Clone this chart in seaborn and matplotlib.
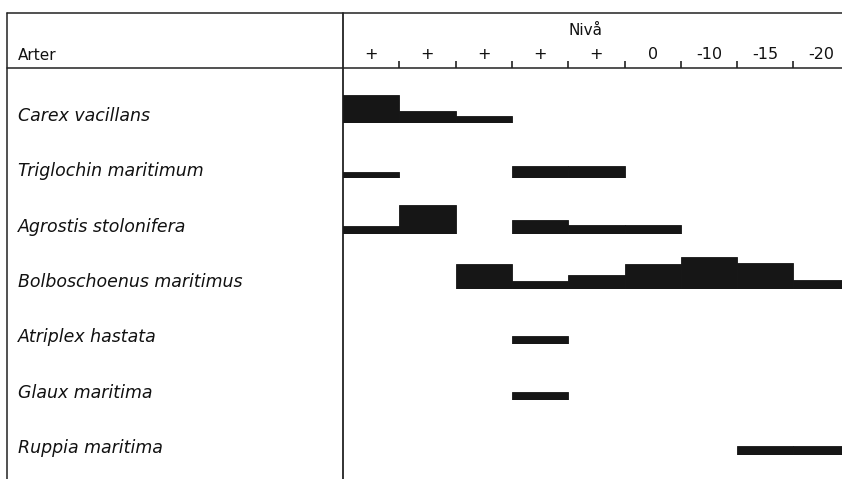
import numpy as np
import pandas as pd
import matplotlib
matplotlib.use("Agg")
import matplotlib.pyplot as plt
import seaborn as sns

# ---------------- data ----------------
levels = ["+", "+", "+", "+", "+", "0", "-10", "-15", "-20"]
species = ["Carex vacillans", "Triglochin maritimum", "Agrostis stolonifera",
           "Bolboschoenus maritimus", "Atriplex hastata", "Glaux maritima",
           "Ruppia maritima"]
# relative abundance (bar thickness) per level column
carex = [28, 12.5, 7, 0, 0, 0, 0, 0, 0]
triglochin = [6, 0, 0, 12.5, 12.5, 0, 0, 0, 0]
agrostis = [7.5, 29, 0, 14, 9, 9, 0, 0, 0]
bolboschoenus = [0, 0, 25, 7.7, 14.3, 25, 31.7, 26, 9]
atriplex = [0, 0, 0, 8.3, 0, 0, 0, 0, 0]
glaux = [0, 0, 0, 7.7, 0, 0, 0, 0, 0]
ruppia = [0, 0, 0, 0, 0, 0, 0, 8.3, 8.3]
values = [carex, triglochin, agrostis, bolboschoenus, atriplex, glaux, ruppia]

# ---------------- style ----------------
sns.set_style("white")
plt.rcParams["font.family"] = ["DejaVu Sans"]

W, H = 842, 479
fig = plt.figure(figsize=(W / 100, H / 100), dpi=100)

# frame axes in pixel coordinates (table rules and row labels)
frame = fig.add_axes([0, 0, 1, 1])
frame.set_xlim(0, W)
frame.set_ylim(H, 0)
frame.axis("off")

left_x, div_x, top_y, head_y = 7, 343, 13, 68
lw = 1.1
frame.plot([left_x, W], [top_y, top_y], color="#222", lw=lw)
frame.plot([left_x, W], [head_y, head_y], color="#222", lw=lw)
frame.plot([left_x, left_x], [top_y, H], color="#222", lw=lw)
frame.plot([div_x, div_x], [top_y, H], color="#222", lw=lw + 0.2)
frame.text(18, 60, "Arter", fontsize=11, va="baseline", color="#111")

col_w = 56.3
xmax = -0.5 + (W - div_x) / col_w

# header axes (level labels + small ticks)
hdr = fig.add_axes([div_x / W, 1 - head_y / H, (W - div_x) / W, (head_y - top_y) / H])
hdr.set_xlim(-0.5, xmax)
hdr.set_ylim(0, 1)
hdr.axis("off")
hdr.patch.set_alpha(0)
hdr.vlines(np.arange(len(levels) - 1) + 0.5, 0, 0.12, color="#222", lw=1.2)
for i, lab in enumerate(levels):
    hdr.text(i, 0.16, lab, ha="center", va="baseline", fontsize=11.5, color="#111")
hdr.text(3.8, 0.6, "Nivå", ha="center", va="baseline", fontsize=11, color="#111")

# species rows
first_base, row_step, row_h = 123, 55.3, 42
bar_color = "#161616"
for r, (name, vals) in enumerate(zip(species, values)):
    base = first_base + r * row_step
    ax = fig.add_axes([div_x / W, 1 - base / H, (W - div_x) / W, row_h / H])
    df = pd.DataFrame({"level": list(range(len(levels))), "cover": vals})
    df = df[df["cover"] > 0]
    sns.barplot(data=df, x="level", y="cover", order=list(range(len(levels))),
                width=1, color=bar_color, saturation=1, errorbar=None,
                linewidth=0.6, edgecolor=bar_color, ax=ax)
    ax.set_xlim(-0.5, xmax)
    ax.set_ylim(0, row_h)
    ax.axis("off")
    ax.patch.set_alpha(0)
    frame.text(18, base - 2, name, fontsize=12.5, style="italic",
               va="baseline", color="#111")

fig.savefig("out.png", dpi=100)
